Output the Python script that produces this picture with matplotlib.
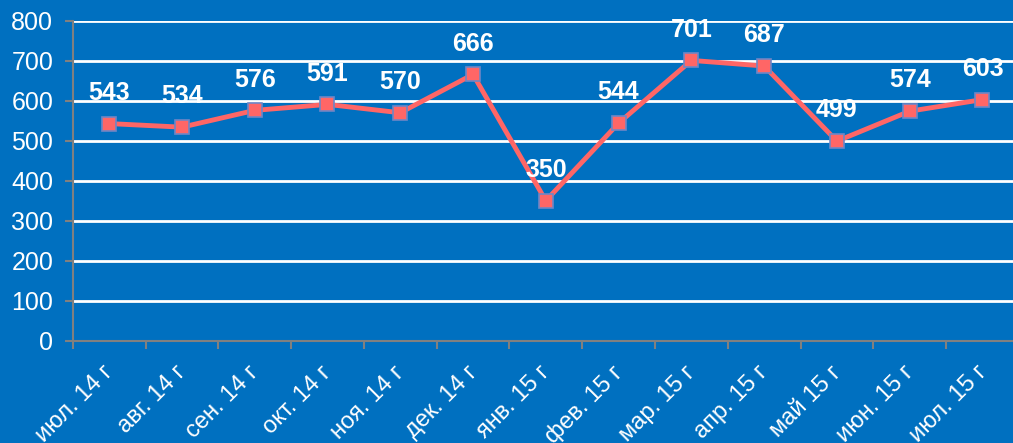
import numpy as np
import matplotlib.pyplot as plt
import matplotlib.transforms as mtransforms

# data
months = ['июл. 14 г', 'авг. 14 г', 'сен. 14 г', 'окт. 14 г', 'ноя. 14 г', 'дек. 14 г',
          'янв. 15 г', 'фев. 15 г', 'мар. 15 г', 'апр. 15 г', 'май 15 г', 'июн. 15 г', 'июл. 15 г']
values = [543, 534, 576, 591, 570, 666, 350, 544, 701, 687, 499, 574, 603]

bg = '#0070C0'
line_col = '#FF6666'

plt.rcParams['font.family'] = ['Liberation Sans', 'DejaVu Sans']

fig = plt.figure(figsize=(10.13, 4.43), dpi=100)
fig.patch.set_facecolor(bg)
ax = fig.add_axes([0.0718, 0.231, 0.934, 0.722])
ax.set_facecolor(bg)

x = np.arange(len(months))
ax.plot(x, values, color=line_col, lw=3.5, marker='s', ms=10,
        mfc=line_col, mec='#6F86C6', mew=1.2, zorder=3)

for xi, v in zip(x, values):
    ax.annotate(str(v), (xi, v), xytext=(0, 13.5), textcoords='offset points',
                ha='center', va='bottom', color='white', fontsize=18,
                fontweight='bold', zorder=4)

ax.set_xlim(-0.5, len(months) - 0.5)
ax.set_ylim(0, 800)
ax.set_yticks(range(0, 801, 100))
ax.yaxis.grid(True, color='white', lw=2)
ax.set_axisbelow(True)

# category ticks sit between points, labels sit on points
ax.set_xticks(np.arange(-0.5, len(months), 1.0))
ax.set_xticklabels([])
ax.set_xticks(x, minor=True)
ax.set_xticklabels(months, minor=True, rotation=45, ha='right',
                   rotation_mode='anchor', color='white', fontsize=17)
ax.tick_params(axis='x', which='minor', length=0, pad=10)
ax.tick_params(axis='x', which='major', length=6, color='#808080', width=1.5)
ax.tick_params(axis='y', length=6, color='#808080', width=1.5,
               labelcolor='white', labelsize=18, pad=8)

shift = mtransforms.ScaledTranslation(-7 / 100, -7 / 100, fig.dpi_scale_trans)
for lab in ax.get_xticklabels(minor=True):
    lab.set_transform(lab.get_transform() + shift)

for s in ['top', 'right']:
    ax.spines[s].set_visible(False)
for s in ['left', 'bottom']:
    ax.spines[s].set_color('#808080')
    ax.spines[s].set_linewidth(1.5)

plt.savefig('out.png', dpi=100, facecolor=bg)
